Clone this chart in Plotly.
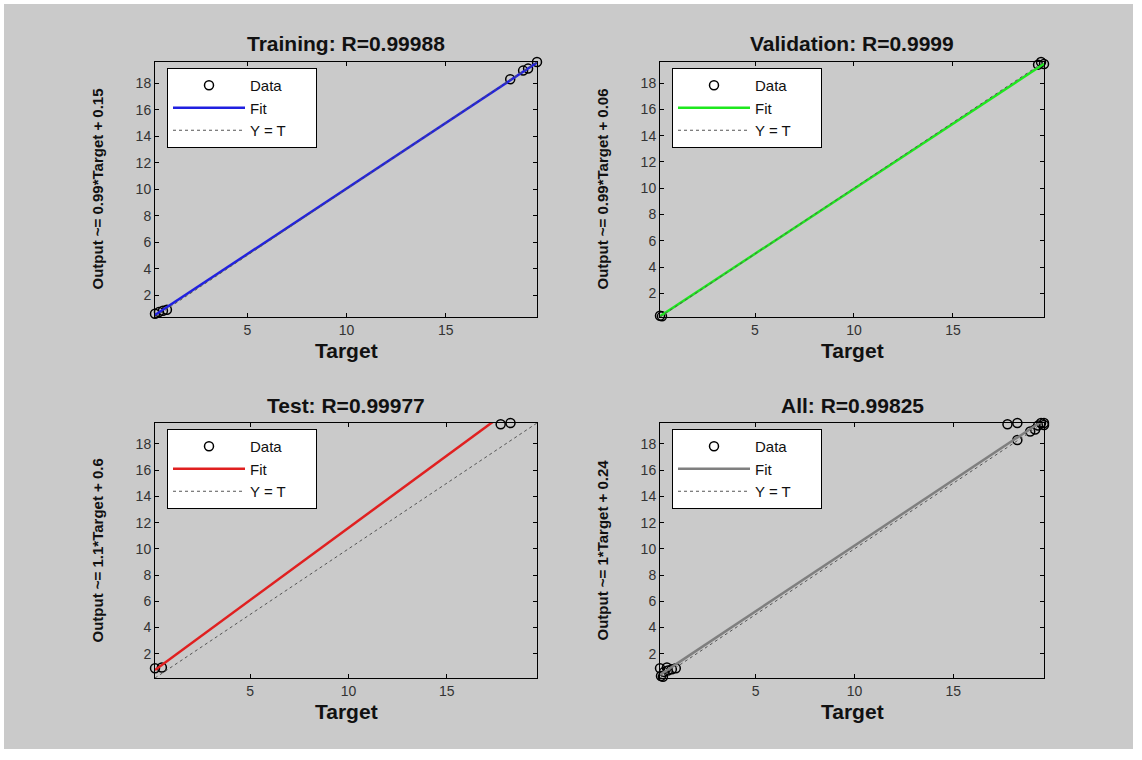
import plotly.graph_objects as go

# Regression data for each data split (target vs. network output)
train_target = [0.35, 0.55, 0.75, 0.95, 18.25, 18.9, 19.15, 19.6]
train_output = [0.6, 0.72, 0.82, 0.9, 18.3, 18.95, 19.1, 19.6]

val_target = [0.2, 0.3, 19.3, 19.45, 19.6]
val_output = [0.3, 0.25, 19.4, 19.6, 19.45]

test_target = [0.15, 0.5, 17.75, 18.25]
test_output = [0.9, 0.95, 19.5, 19.6]

all_target = train_target + val_target + test_target
all_output = train_output + val_output + test_output

# Fit coefficients (slope, intercept) and R values
titles = ["Training: R=0.99988", "Validation: R=0.9999", "Test: R=0.99977", "All: R=0.99825"]
slopes = [0.99, 0.99, 1.1, 1.0]
intercepts = [0.15, 0.06, 0.6, 0.24]
ylabels = ["Output ~= 0.99*Target + 0.15", "Output ~= 0.99*Target + 0.06",
           "Output ~= 1.1*Target + 0.6", "Output ~= 1*Target + 0.24"]
fit_colors = ["#2020e0", "#1ee81e", "#e02020", "#7f7f7f"]
legend_names = ["Data", "Fit", "Y = T\u00a0\u00a0\u00a0\u00a0\u00a0\u00a0"]

x_ticks = [5, 10, 15]
y_ticks = [2, 4, 6, 8, 10, 12, 14, 16, 18]

datasets = [(train_target, train_output), (val_target, val_output),
            (test_target, test_output), (all_target, all_output)]

W, H = 1142, 760
# panel boxes in pixels: (left, right, top, bottom)
boxes = [(155, 537, 62, 317), (660, 1044, 62, 317),
         (155, 537, 423, 678), (660, 1044, 423, 678)]

FONT = "Liberation Sans, Arial, Helvetica, sans-serif"

fig = go.Figure()
annotations = []
layout_axes = {}

for i, ((t, y), box) in enumerate(zip(datasets, boxes)):
    n = i + 1
    xa = "x" if n == 1 else f"x{n}"
    ya = "y" if n == 1 else f"y{n}"
    leg = "legend" if n == 1 else f"legend{n}"
    lo = min(min(t), min(y))
    hi = max(max(t), max(y))

    fig.add_trace(go.Scatter(
        x=t, y=y, mode="markers", name=legend_names[0], xaxis=xa, yaxis=ya, legend=leg,
        marker=dict(symbol="circle-open", size=9, color="black", line=dict(width=1.5)),
        cliponaxis=False))
    fig.add_trace(go.Scatter(
        x=[lo, hi], y=[slopes[i] * lo + intercepts[i], slopes[i] * hi + intercepts[i]],
        mode="lines", name=legend_names[1], xaxis=xa, yaxis=ya, legend=leg,
        line=dict(color=fit_colors[i], width=2.5)))
    fig.add_trace(go.Scatter(
        x=[lo, hi], y=[lo, hi], mode="lines", name=legend_names[2], xaxis=xa, yaxis=ya,
        legend=leg, line=dict(color="#555555", width=1, dash="3px,3px")))

    l, r, tp, b = box
    xdom = [l / W, r / W]
    ydom = [1 - b / H, 1 - tp / H]
    axis_common = dict(showgrid=False, zeroline=False, showline=True, linecolor="black",
                       linewidth=1, mirror="ticks", ticks="inside", ticklen=4,
                       tickcolor="black", tickfont=dict(family=FONT, size=14, color="#333333"),
                       range=[lo, hi])
    layout_axes["xaxis" if n == 1 else f"xaxis{n}"] = dict(
        axis_common, domain=xdom, anchor=ya, tickvals=x_ticks)
    layout_axes["yaxis" if n == 1 else f"yaxis{n}"] = dict(
        axis_common, domain=ydom, anchor=xa, tickvals=y_ticks)

    layout_axes[leg] = dict(
        x=(l + 12) / W, y=1 - (tp + 6) / H, xanchor="left", yanchor="top",
        bgcolor="white", bordercolor="black", borderwidth=1,
        font=dict(family=FONT, size=15, color="#111111"), itemwidth=72,
        tracegroupgap=0)

    # panel title
    annotations.append(dict(
        text=f"<b>{titles[i]}</b>", x=(l + r) / 2 / W, y=1 - (tp - 18) / H,
        xref="paper", yref="paper", xanchor="center", yanchor="middle", showarrow=False,
        font=dict(family=FONT, size=21, color="#111111")))
    # x-axis title
    annotations.append(dict(
        text="<b>Target</b>", x=(l + r) / 2 / W, y=1 - (b + 33) / H,
        xref="paper", yref="paper", xanchor="center", yanchor="middle", showarrow=False,
        font=dict(family=FONT, size=21, color="#111111")))
    # y-axis title
    annotations.append(dict(
        text=f"<b>{ylabels[i]}</b>", x=(l - 58) / W, y=1 - (tp + b) / 2 / H, textangle=-90,
        xref="paper", yref="paper", xanchor="center", yanchor="middle", showarrow=False,
        font=dict(family=FONT, size=15, color="#111111")))

fig.update_layout(
    width=W, height=H, margin=dict(l=0, r=0, t=0, b=0),
    paper_bgcolor="white", plot_bgcolor="white",
    annotations=annotations,
    shapes=[dict(type="rect", xref="paper", yref="paper", layer="below",
                 x0=4 / W, x1=1133 / W, y0=1 - 749 / H, y1=1 - 4 / H,
                 fillcolor="#cacaca", line=dict(width=0))],
    **layout_axes)

fig.write_html("out.html")
